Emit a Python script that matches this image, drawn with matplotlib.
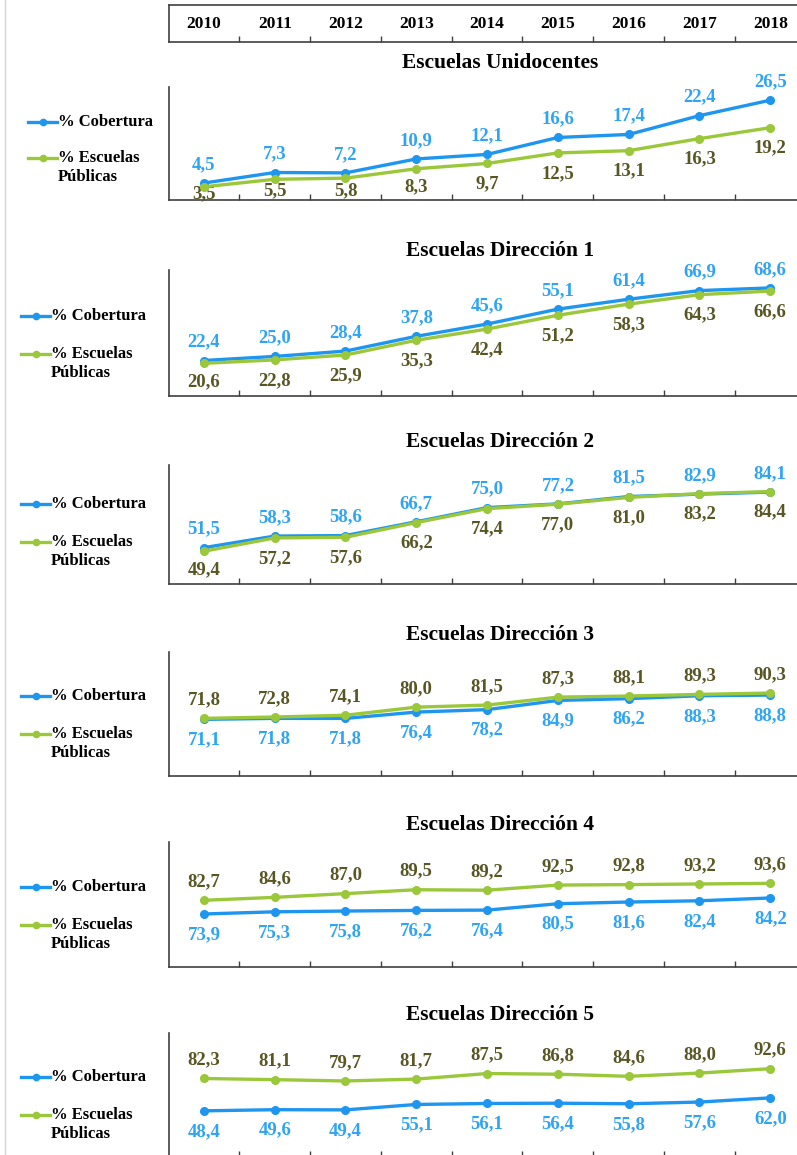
import matplotlib
matplotlib.use('Agg')
import matplotlib.pyplot as plt
from matplotlib.lines import Line2D
import numpy as np

plt.rcParams.update({
    'font.family': ['Liberation Serif', 'DejaVu Serif'],
    'font.weight': 'bold',
})

W, H = 797, 1155

years = ['2010', '2011', '2012', '2013', '2014', '2015', '2016', '2017', '2018']

titles = ['Escuelas Unidocentes', 'Escuelas Dirección 1', 'Escuelas Dirección 2',
          'Escuelas Dirección 3', 'Escuelas Dirección 4', 'Escuelas Dirección 5']

cobertura = [
    [4.5, 7.3, 7.2, 10.9, 12.1, 16.6, 17.4, 22.4, 26.5],
    [22.4, 25.0, 28.4, 37.8, 45.6, 55.1, 61.4, 66.9, 68.6],
    [51.5, 58.3, 58.6, 66.7, 75.0, 77.2, 81.5, 82.9, 84.1],
    [71.1, 71.8, 71.8, 76.4, 78.2, 84.9, 86.2, 88.3, 88.8],
    [73.9, 75.3, 75.8, 76.2, 76.4, 80.5, 81.6, 82.4, 84.2],
    [48.4, 49.6, 49.4, 55.1, 56.1, 56.4, 55.8, 57.6, 62.0],
]
publicas = [
    [3.5, 5.5, 5.8, 8.3, 9.7, 12.5, 13.1, 16.3, 19.2],
    [20.6, 22.8, 25.9, 35.3, 42.4, 51.2, 58.3, 64.3, 66.6],
    [49.4, 57.2, 57.6, 66.2, 74.4, 77.0, 81.0, 83.2, 84.4],
    [71.8, 72.8, 74.1, 80.0, 81.5, 87.3, 88.1, 89.3, 90.3],
    [82.7, 84.6, 87.0, 89.5, 89.2, 92.5, 92.8, 93.2, 93.6],
    [82.3, 81.1, 79.7, 81.7, 87.5, 86.8, 84.6, 88.0, 92.6],
]

# layout (pixels): axes top/bottom, y range, title y, legend x
ax_top = [87, 270, 465, 652.3, 842.3, 1033]
ax_bot = [200, 395.7, 584.3, 775.7, 966.7, 1157]
ylims = [(0, 30), (0, 80), (30, 100), (30, 120), (40, 120), (0, 130)]
title_y = [63, 250.5, 441.7, 635, 825, 1015]
leg_x = [28, 21, 21, 21, 21, 21]

BLUE = '#1E96F0'
BLUE_TXT = '#2FA4F5'
GREEN = '#9BC73A'
GREEN_TXT = '#595625'
SPINE = '#404040'

X0, X1 = 168.5, 805.7
fig = plt.figure(figsize=(W / 100, H / 100), dpi=100)


def fmt(v):
    return f'{v:.1f}'.replace('.', ',')


# left page border
fig.add_artist(Line2D([5 / W, 5 / W], [0, 1], color='#D6D6D6', lw=1))

# header with the years
hax = fig.add_axes([X0 / W, 1 - 42 / H, (X1 - X0) / W, 37 / H])
hax.set_xlim(-0.5, 8.5)
hax.set_ylim(0, 1)
hax.spines['right'].set_visible(False)
for s in ['top', 'left', 'bottom']:
    hax.spines[s].set_color(SPINE)
    hax.spines[s].set_linewidth(1.2)
hax.set_xticks(np.arange(0.5, 8.5, 1))
hax.set_xticklabels([])
hax.set_yticks([])
hax.tick_params(axis='x', direction='in', length=4.3, color=SPINE, width=1)
for i, y in enumerate(years):
    hax.text(i, 0.5, y, ha='center', va='center', fontsize=12.5, fontweight='bold')

x = np.arange(len(years))
for k in range(6):
    top, bot = ax_top[k], ax_bot[k]
    hpx = bot - top
    ax = fig.add_axes([X0 / W, 1 - bot / H, (X1 - X0) / W, hpx / H])
    ax.set_xlim(-0.5, 8.5)
    ax.set_ylim(*ylims[k])
    ax.set_facecolor('none')
    for s in ['top', 'right']:
        ax.spines[s].set_visible(False)
    for s in ['left', 'bottom']:
        ax.spines[s].set_color(SPINE)
        ax.spines[s].set_linewidth(1.2)
    ax.set_xticks(np.arange(0.5, 8.5, 1))
    ax.set_xticklabels([])
    ax.set_yticks([])
    ax.tick_params(axis='x', direction='in', length=4.3, color=SPINE, width=1)

    cob, pub = cobertura[k], publicas[k]
    ax.plot(x, cob, color=BLUE, lw=2.4, marker='o', ms=5.5, zorder=3)
    ax.plot(x, pub, color=GREEN, lw=2.4, marker='o', ms=5.5, zorder=4)

    blue_above = k < 3
    y0, y1 = ylims[k]
    for i in range(len(years)):
        for v, col, up in [(cob[i], BLUE_TXT, blue_above), (pub[i], GREEN_TXT, not blue_above)]:
            p = (v - y0) / (y1 - y0) * hpx
            if up:
                off = 18.5
            else:
                off = max(p - 20.5, 0.4 * p + 1) - p
            ax.annotate(fmt(v), (i, v), xytext=(0, off * 0.72), textcoords='offset points',
                        ha='center', va='center', fontsize=13.5, fontweight='bold',
                        color=col, annotation_clip=False)

    fig.text(500 / W, 1 - title_y[k] / H, titles[k], ha='center', va='center',
             fontsize=15.5, fontweight='bold')

    # legend
    lx = leg_x[k]
    off_c = 78 if k == 0 else 80
    yc = bot - off_c
    ye = bot - 42
    yp = bot - 23
    for yy, col in [(yc, BLUE), (ye, GREEN)]:
        fig.add_artist(Line2D([lx / W, (lx + 29) / W], [1 - yy / H, 1 - yy / H],
                              color=col, lw=2.4))
        fig.add_artist(Line2D([(lx + 14.5) / W], [1 - yy / H], color=col,
                              marker='o', ms=4.5, lw=0))
    tx = (lx + 30) / W
    fig.text(tx, 1 - yc / H, '% Cobertura', ha='left', va='center', fontsize=12, fontweight='bold')
    fig.text(tx, 1 - ye / H, '% Escuelas', ha='left', va='center', fontsize=12, fontweight='bold')
    fig.text(tx, 1 - yp / H, 'Públicas', ha='left', va='center', fontsize=12, fontweight='bold')

fig.savefig('out.png', dpi=100, facecolor='white')
